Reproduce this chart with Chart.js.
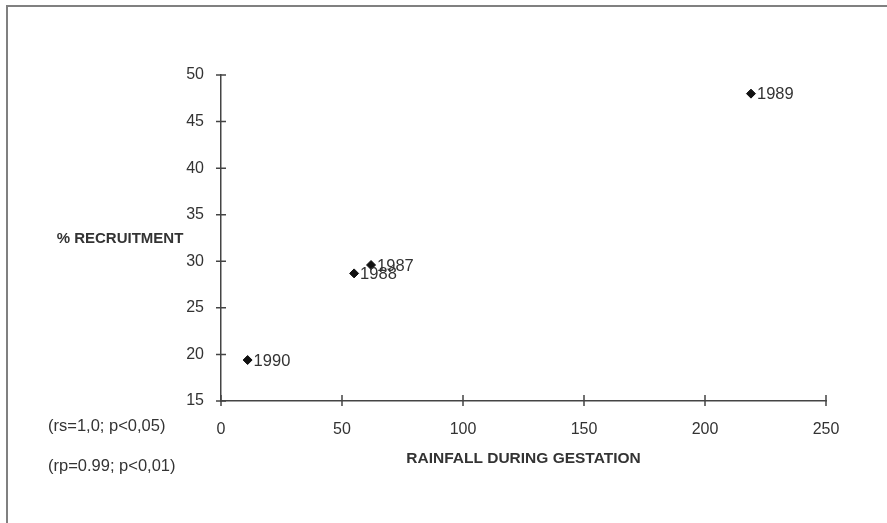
<!DOCTYPE html>
<html>
<head>
<meta charset="utf-8">
<script src="https://cdn.jsdelivr.net/npm/chart.js@4.4.1/dist/chart.umd.min.js"></script>
<style>
  html, body { margin: 0; padding: 0; background: #fff; }
  #wrap { position: relative; width: 887px; height: 523px; }
  #frame { position: absolute; left: 6px; top: 5px; right: -10px; bottom: -10px;
           border-left: 2px solid #808080; border-top: 2px solid #808080; }
</style>
</head>
<body>
<div id="wrap">
  <div id="frame"></div>
  <canvas id="recruitChart"></canvas>
</div>
<script>
// values
const years = ['1987', '1988', '1989', '1990'];
const rainfall = [62, 55, 219, 11];          // rainfall during gestation
const recruitment = [29.6, 28.7, 48.0, 19.4]; // % recruitment
const xTicks = [0, 50, 100, 150, 200, 250];
const yTicks = [15, 20, 25, 30, 35, 40, 45, 50];
const stats = ['(rs=1,0; p<0,05)', '(rp=0.99; p<0,01)'];

const ink = '#333';
const font = '"Liberation Sans", Arial, sans-serif';

const points = rainfall.map((r, i) => ({ x: r, y: recruitment[i] }));

// year labels next to the diamonds, crossing ticks and the free text
const extras = {
    id: 'extras',
    afterDatasetsDraw(chart) {
        const ctx = chart.ctx;
        const meta = chart.getDatasetMeta(0);
        ctx.save();
        ctx.fillStyle = ink;
        ctx.font = '16.5px ' + font;
        ctx.textAlign = 'left';
        ctx.textBaseline = 'middle';
        meta.data.forEach((pt, i) => {
            ctx.fillText(years[i], pt.x + 6, pt.y + 1);
        });
        ctx.restore();
    },
    afterDraw(chart) {
        const ctx = chart.ctx;
        const area = chart.chartArea;
        const xs = chart.scales.x;
        const ys = chart.scales.y;
        ctx.save();
        ctx.strokeStyle = '#444';
        ctx.lineWidth = 1.5;
        ctx.beginPath();
        yTicks.forEach(v => {
            const py = ys.getPixelForValue(v);
            ctx.moveTo(area.left - 5, py);
            ctx.lineTo(area.left + 5, py);
        });
        xTicks.forEach(v => {
            const px = xs.getPixelForValue(v);
            ctx.moveTo(px, area.bottom - 6);
            ctx.lineTo(px, area.bottom + 5);
        });
        ctx.stroke();

        ctx.fillStyle = ink;
        ctx.textBaseline = 'middle';
        ctx.font = 'bold 15px ' + font;
        ctx.textAlign = 'center';
        ctx.fillText('% RECRUITMENT', 120, 239);

        ctx.font = '16.5px ' + font;
        ctx.textAlign = 'left';
        ctx.fillText(stats[0], 48, 426);
        ctx.fillText(stats[1], 48, 466);
        ctx.restore();
    }
};

const ctx = document.getElementById('recruitChart').getContext('2d');

new Chart(ctx, {
    type: 'scatter',
    data: {
        datasets: [{
            label: '% recruitment',
            data: points,
            pointStyle: 'rectRot',
            pointRadius: 4.5,
            pointHoverRadius: 4.5,
            backgroundColor: '#111',
            borderColor: '#111',
            borderWidth: 1
        }]
    },
    options: {
        responsive: true,
        maintainAspectRatio: false,
        animation: false,
        layout: {
            padding: { top: 75, right: 61, bottom: 0, left: 0 }
        },
        plugins: {
            legend: { display: false },
            tooltip: { enabled: false }
        },
        scales: {
            x: {
                type: 'linear',
                min: 0,
                max: 250,
                afterFit: scale => { scale.height = 122; },
                afterBuildTicks: scale => { scale.ticks = xTicks.map(v => ({ value: v })); },
                grid: { display: false, drawTicks: false },
                border: { display: true, color: '#444', width: 1.5 },
                ticks: {
                    padding: 19,
                    color: ink,
                    font: { family: font, size: 16 }
                },
                title: {
                    display: true,
                    text: 'RAINFALL DURING GESTATION',
                    color: ink,
                    font: { family: font, size: 15.5, weight: 'bold' },
                    padding: { top: 0, bottom: 55 }
                }
            },
            y: {
                type: 'linear',
                min: 15,
                max: 50,
                afterFit: scale => { scale.width = 221; },
                afterBuildTicks: scale => { scale.ticks = yTicks.map(v => ({ value: v })); },
                grid: { display: false, drawTicks: false },
                border: { display: true, color: '#444', width: 1.5 },
                ticks: {
                    padding: 17,
                    color: ink,
                    font: { family: font, size: 16 }
                }
            }
        }
    },
    plugins: [extras]
});
</script>
</body>
</html>
